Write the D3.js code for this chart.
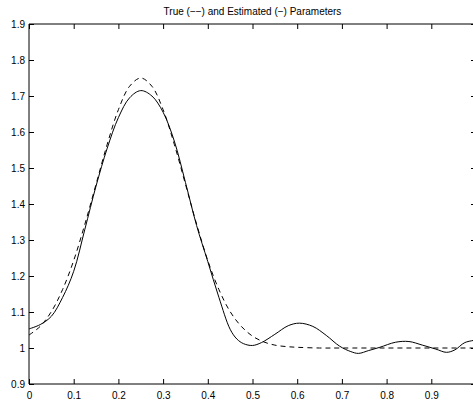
<!DOCTYPE html>
<html>
<head>
<meta charset="utf-8">
<script src="https://cdn.jsdelivr.net/npm/d3@7"></script>
<style>
  body { margin: 0; background: #fff; }
  svg { display: block; font-family: "Liberation Sans", Arial, Helvetica, sans-serif; }
</style>
</head>
<body>
<svg id="chart" width="473" height="400"></svg>
<script>
// true parameters (dashed)
const xTrue = [0, 0.025, 0.05, 0.075, 0.1, 0.125, 0.15, 0.175, 0.2, 0.225, 0.25,
               0.275, 0.3, 0.325, 0.35, 0.375, 0.4, 0.425, 0.45, 0.475, 0.5,
               0.525, 0.55, 0.575, 0.6, 0.65, 0.7, 0.8, 0.9, 1.0];
const yTrue = [1.036, 1.060, 1.101, 1.162, 1.243, 1.344, 1.455, 1.566, 1.662, 1.727, 1.750,
               1.727, 1.662, 1.566, 1.455, 1.344, 1.243, 1.162, 1.101, 1.060, 1.033,
               1.017, 1.008, 1.004, 1.002, 1.000, 1.000, 1.000, 1.000, 1.000];

// estimated parameters (solid)
const xEst = [0, 0.025, 0.05, 0.075, 0.1, 0.125, 0.15, 0.175, 0.2, 0.225, 0.25,
              0.275, 0.3, 0.325, 0.35, 0.375, 0.4, 0.425, 0.45, 0.465, 0.48, 0.5,
              0.52, 0.55, 0.58, 0.605, 0.635, 0.665, 0.695, 0.72, 0.737, 0.76,
              0.785, 0.82, 0.85, 0.88, 0.91, 0.934, 0.953, 0.975, 1.0];
const yEst = [1.053, 1.065, 1.088, 1.140, 1.213, 1.330, 1.450, 1.555, 1.640, 1.695, 1.715,
              1.700, 1.655, 1.575, 1.460, 1.340, 1.240, 1.140, 1.052, 1.025, 1.012, 1.007,
              1.015, 1.038, 1.062, 1.069, 1.060, 1.035, 1.005, 0.990, 0.985, 0.993,
              1.002, 1.016, 1.018, 1.008, 0.997, 0.988, 0.995, 1.015, 1.022];

const xTicks = [0, 0.1, 0.2, 0.3, 0.4, 0.5, 0.6, 0.7, 0.8, 0.9, 1];
const xLabels = ["0", "0.1", "0.2", "0.3", "0.4", "0.5", "0.6", "0.7", "0.8", "0.9", ""]; // last one falls off the page
const yTicks = [0.9, 1, 1.1, 1.2, 1.3, 1.4, 1.5, 1.6, 1.7, 1.8, 1.9];
const title = "True (\u2212\u2212) and Estimated (\u2212) Parameters";

const margin = {top: 24, right: -3, bottom: 16, left: 29};
const W = 473, H = 400;
const svg = d3.select("#chart");

const x = d3.scaleLinear().domain([0, 1]).range([margin.left, W - margin.right]);
const y = d3.scaleLinear().domain([0.9, 1.9]).range([H - margin.bottom, margin.top]);

const line = d3.line().x(d => x(d[0])).y(d => y(d[1])).curve(d3.curveCatmullRom);

svg.append("path")
  .datum(d3.zip(xTrue, yTrue))
  .attr("fill", "none").attr("stroke", "#000").attr("stroke-width", 1)
  .attr("stroke-dasharray", "5,4")
  .attr("d", line);

svg.append("path")
  .datum(d3.zip(xEst, yEst))
  .attr("fill", "none").attr("stroke", "#000").attr("stroke-width", 1)
  .attr("d", line);

// axes, ticks pointing inward like matlab
const fmt = d => String(+d.toFixed(1));
svg.append("g").attr("transform", `translate(0,${y(0.9)})`)
  .call(d3.axisBottom(x).tickValues(xTicks).tickSize(-5).tickPadding(8)
    .tickFormat((d, i) => xLabels[i]))
  .call(g => g.select(".domain").attr("d", `M${x(0)},0H${x(1)}`));
svg.append("g").attr("transform", `translate(0,${y(1.9)})`)
  .call(d3.axisTop(x).tickValues(xTicks).tickSize(-5).tickFormat(""))
  .call(g => g.select(".domain").attr("d", `M${x(0)},0H${x(1)}`));
svg.append("g").attr("transform", `translate(${x(0)},0)`)
  .call(d3.axisLeft(y).tickValues(yTicks).tickSize(-5).tickPadding(4).tickFormat(fmt))
  .call(g => g.select(".domain").attr("d", `M0,${y(0.9)}V${y(1.9)}`));
svg.append("g").attr("transform", `translate(${x(1)},0)`)
  .call(d3.axisRight(y).tickValues(yTicks).tickSize(-5).tickFormat(""))
  .call(g => g.select(".domain").attr("d", `M0,${y(0.9)}V${y(1.9)}`));

svg.selectAll(".tick text").attr("font-size", 10).attr("fill", "#000")
  .attr("font-family", "Liberation Sans, Arial, sans-serif");

svg.append("text")
  .attr("x", (x(0) + x(1)) / 2).attr("y", 15)
  .attr("text-anchor", "middle").attr("font-size", 10)
  .text(title);
</script>
</body>
</html>
